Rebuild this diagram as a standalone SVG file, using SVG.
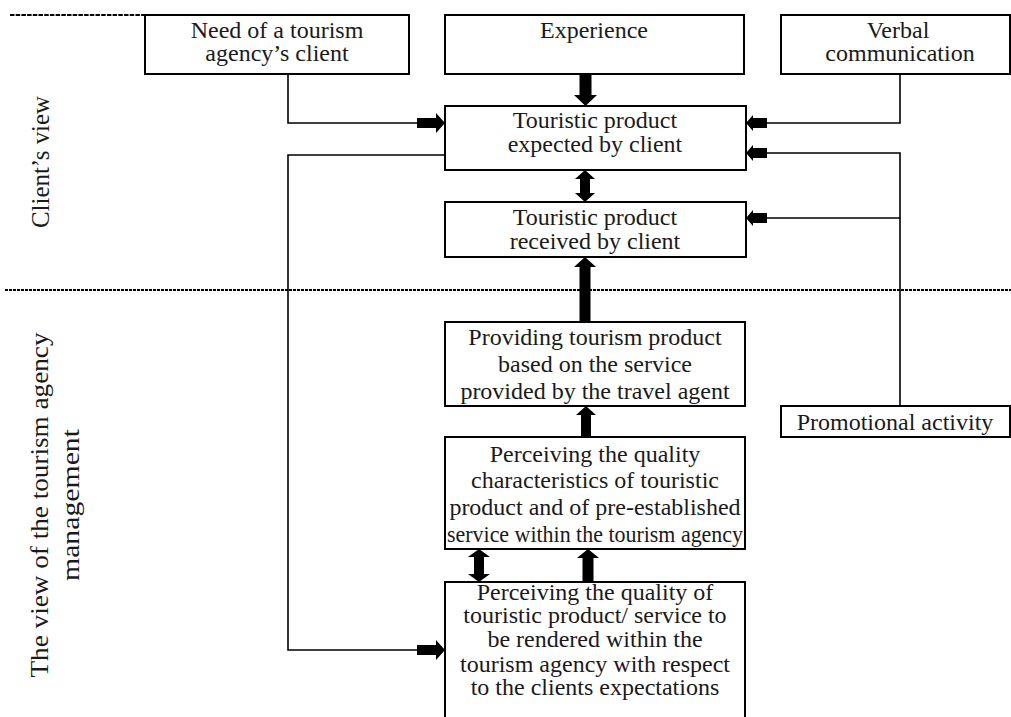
<svg xmlns="http://www.w3.org/2000/svg" width="1011" height="717" viewBox="0 0 1011 717">
<style>
.box{fill:#fff;stroke:#000;stroke-width:2}
.t{font-family:"Liberation Serif","Times New Roman",serif;font-size:24px;fill:#1a1a1a;text-anchor:middle}
.lbl{font-family:"Liberation Serif","Times New Roman",serif;font-size:25px;fill:#1a1a1a;text-anchor:middle}
.ln{fill:none;stroke:#000;stroke-width:1.6}
.ar{fill:#000;stroke:none}
.dash{stroke:#000;fill:none}
</style>
<rect width="1011" height="717" fill="#fff"/>
<g id="separators">
<line class="dash" x1="10" y1="15" x2="145" y2="15" stroke-width="2.2" stroke-dasharray="4.5,1.2"/>
<line class="dash" x1="5" y1="290" x2="1011" y2="290" stroke-width="1.8" stroke-dasharray="3,1"/>
</g>
<g id="label-client">
<text class="lbl" transform="translate(49,162) rotate(-90)" textLength="132" lengthAdjust="spacingAndGlyphs">Client’s view</text>
</g>
<g id="label-management">
<text class="lbl" transform="translate(48,505) rotate(-90)" textLength="345" lengthAdjust="spacingAndGlyphs">The view of the tourism agency</text>
<text class="lbl" transform="translate(79,505) rotate(-90)" textLength="152" lengthAdjust="spacingAndGlyphs">management</text>
</g>
<g id="connectors">
<polyline class="ln" points="288,74 288,123 418,123"/>
<polyline class="ln" points="445,155 288,155 288,650 418,650"/>
<polyline class="ln" points="900,74 900,123 766,123"/>
<polyline class="ln" points="900,406 900,153 766,153"/>
<line class="ln" x1="900" y1="218" x2="766" y2="218"/>
<path class="ar" d="M579.5,74 H591.5 V95 H597 L585.5,106 L574,95 H579.5 Z"/>
<path class="ar" d="M585,170 L595,179 H590 V193 H595 L585,202 L575,193 H580 V179 H575 Z"/>
<path class="ar" d="M585,257 L596,267 H590.5 V322 H579.5 V267 H574 Z"/>
<path class="ar" d="M586,406 L596,415 H591 V437 H581 V415 H576 Z"/>
<path class="ar" d="M479,549 L490,557 H484 V574 H490 L479,582 L468,574 H474 V557 H468 Z"/>
<path class="ar" d="M588,549 L599,558 H593.5 V582 H582.5 V558 H577 Z"/>
<path class="ar" d="M417,118 H436 V113 L445,123 L436,133 V128 H417 Z"/>
<path class="ar" d="M417,645 H436 V640 L445,650 L436,660 V655 H417 Z"/>
<path class="ar" d="M746,123 L753,115 V118 H767 V128 H753 V131 Z"/>
<path class="ar" d="M746,153 L753,145 V148 H767 V158 H753 V161 Z"/>
<path class="ar" d="M746,218 L753,210 V213 H767 V223 H753 V226 Z"/>
</g>
<g id="need">
<rect class="box" x="145" y="15" width="264" height="59"/>
<text class="t" x="277" y="38">Need of a tourism</text>
<text class="t" x="277" y="61">agency’s client</text>
</g>
<g id="experience">
<rect class="box" x="445" y="15" width="299" height="59"/>
<text class="t" x="594" y="38">Experience</text>
</g>
<g id="verbal">
<rect class="box" x="781" y="15" width="229" height="59"/>
<text class="t" x="898" y="38">Verbal</text>
<text class="t" x="900" y="61">communication</text>
</g>
<g id="expected">
<rect class="box" x="445" y="106" width="301" height="64"/>
<text class="t" x="595" y="128">Touristic product</text>
<text class="t" x="595" y="152">expected by client</text>
</g>
<g id="received">
<rect class="box" x="445" y="202" width="301" height="55"/>
<text class="t" x="595" y="225">Touristic product</text>
<text class="t" x="595" y="249">received by client</text>
</g>
<g id="providing">
<rect class="box" x="445" y="322" width="300" height="84"/>
<text class="t" x="595" y="345">Providing tourism product</text>
<text class="t" x="595" y="372">based on the service</text>
<text class="t" x="595" y="399">provided by the travel agent</text>
</g>
<g id="promotional">
<rect class="box" x="781" y="406" width="229" height="31"/>
<text class="t" x="895" y="430">Promotional activity</text>
</g>
<g id="perceiving-characteristics">
<rect class="box" x="445" y="437" width="300" height="112"/>
<text class="t" x="595" y="462">Perceiving the quality</text>
<text class="t" x="595" y="488">characteristics of touristic</text>
<text class="t" x="595" y="515">product and of pre-established</text>
<text class="t" x="595" y="542" textLength="296" lengthAdjust="spacingAndGlyphs">service within the tourism agency</text>
</g>
<g id="perceiving-quality">
<rect class="box" x="445" y="582" width="300" height="145"/>
<text class="t" x="595" y="600">Perceiving the quality of</text>
<text class="t" x="595" y="623">touristic product/ service to</text>
<text class="t" x="595" y="647">be rendered within the</text>
<text class="t" x="595" y="672">tourism agency with respect</text>
<text class="t" x="595" y="695">to the clients expectations</text>
</g>
</svg>
